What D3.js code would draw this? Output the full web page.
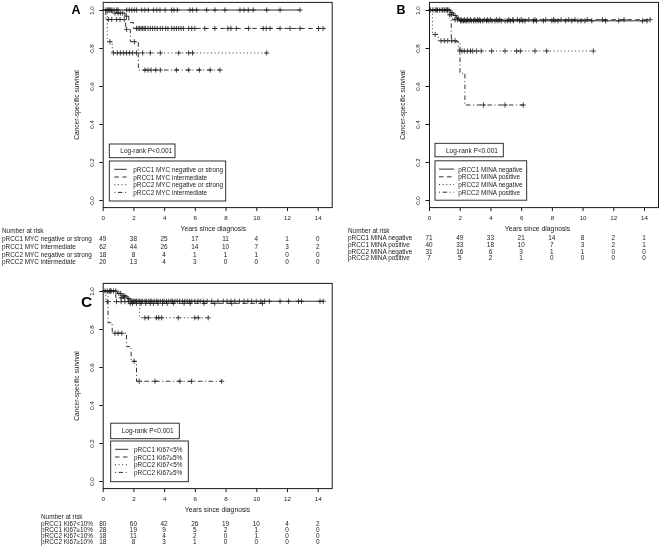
<!DOCTYPE html>
<html><head><meta charset="utf-8">
<script src="https://cdn.jsdelivr.net/npm/d3@7"></script>
<style>
body{margin:0;background:#fff;}
svg{display:block;font-family:"Liberation Sans",Arial,Helvetica,sans-serif;opacity:0.999;will-change:transform;}
</style></head><body>
<svg id="chart" width="660" height="554"></svg>
<script>
// ---------- shared ----------
const xTicks = [0, 2, 4, 6, 8, 10, 12, 14];
const yTicks = [0, 0.2, 0.4, 0.6, 0.8, 1.0];
const xTitle = "Years since diagnosis";
const yTitle = "Cancer-specific survival";
const logRankText = "Log-rank P<0.001";
const riskHeader = "Number at risk";

// ---------- Panel A (MYC) ----------
const aLegend = ["pRCC1 MYC negative or strong", "pRCC1 MYC intermediate", "pRCC2 MYC negative or strong", "pRCC2 MYC intermediate"];
const aRisk = [[49, 38, 25, 17, 11, 4, 1, 0], [62, 44, 26, 14, 10, 7, 3, 2], [18, 8, 4, 1, 1, 1, 0, 0], [20, 13, 4, 3, 0, 0, 0, 0]];
const a1Steps = [[0, 1]];
const a1Cens = [0.21, 0.3, 0.37, 0.45, 0.52, 0.6, 0.74, 0.91, 1.0, 1.56, 1.73, 1.89, 2.06, 2.21, 2.54, 2.75, 2.97, 3.3, 3.52, 3.73, 4.06, 4.49, 4.64, 4.86, 5.68, 5.86, 6.12, 6.77, 7.31, 7.96, 8.94, 9.2, 9.48, 9.8, 10.68, 11.55, 12.85];
const a1End = 12.85;
const a2Steps = [[0, 1], [0.6, 0.984], [1.45, 0.967], [1.7, 0.934], [2.0, 0.903]];
const a2Cens = [0.8, 1.0, 1.15, 1.3, 1.55, 2.2, 2.3, 2.4, 2.5, 2.6, 2.7, 2.8, 2.95, 3.1, 3.25, 3.4, 3.55, 3.75, 3.9, 4.1, 4.25, 4.5, 4.65, 4.8, 4.95, 5.1, 5.25, 5.6, 5.8, 6.0, 6.65, 7.3, 8.15, 8.35, 8.7, 9.5, 10.45, 10.65, 10.9, 11.55, 12.2, 12.85, 14.05, 14.35];
const a2End = 14.5;
const a3Steps = [[0, 1], [0.3, 0.833], [0.62, 0.774]];
const a3Cens = [0.47, 0.7, 0.95, 1.15, 1.35, 1.55, 1.75, 1.95, 2.2, 2.6, 3.1, 3.75, 4.95, 5.6, 5.85, 10.68];
const a3End = 10.68;
const a4Steps = [[0, 1], [0.2, 0.95], [1.5, 0.898], [1.8, 0.833], [2.32, 0.684]];
const a4Cens = [0.37, 0.59, 0.91, 1.13, 1.4, 1.56, 2.06, 2.75, 2.95, 3.15, 3.45, 3.75, 4.8, 5.6, 6.3, 7.0, 7.64];
const a4End = 7.64;

// ---------- Panel B (MINA) ----------
const bLegend = ["pRCC1 MINA negative", "pRCC1 MINA positive", "pRCC2 MINA negative", "pRCC2 MINA positive"];
const bRisk = [[71, 49, 33, 21, 14, 8, 2, 1], [40, 33, 18, 10, 7, 3, 2, 1], [31, 16, 6, 3, 1, 1, 0, 0], [7, 5, 2, 1, 0, 0, 0, 0]];
const b1Steps = [[0, 1], [1.4, 0.986], [1.6, 0.971], [1.8, 0.957], [1.95, 0.943]];
const b1Cens = [0.1, 0.25, 0.4, 0.55, 0.7, 0.85, 1.0, 1.1, 1.2, 1.3, 1.5, 1.7, 1.9, 2.05, 2.15, 2.25, 2.35, 2.45, 2.6, 2.75, 2.9, 3.05, 3.2, 3.35, 3.5, 3.75, 3.9, 4.1, 4.3, 4.5, 4.7, 4.95, 5.1, 5.3, 5.5, 5.9, 6.1, 6.25, 6.8, 7.0, 7.45, 8.0, 8.2, 8.4, 8.9, 9.3, 9.7, 9.9, 10.15, 10.6, 11.5, 12.35, 13.9, 14.2];
const b1End = 14.2;
const b2Steps = [[0, 1], [1.2, 0.975], [1.55, 0.949]];
const b2Cens = [0.5, 0.9, 1.35, 1.7, 1.85, 2.1, 2.3, 2.5, 2.7, 2.95, 3.15, 3.3, 3.6, 3.8, 4.0, 4.4, 4.6, 5.2, 5.45, 5.75, 6.0, 6.5, 6.9, 7.6, 8.1, 8.6, 9.1, 9.5, 10.3, 11.3, 12.7, 14.4];
const b2End = 14.4;
const b3Steps = [[0, 1], [0.22, 0.871], [0.6, 0.838], [1.9, 0.784]];
const b3Cens = [0.4, 0.78, 1.0, 1.22, 1.48, 1.7, 2.0, 2.15, 2.3, 2.5, 2.7, 2.85, 3.1, 3.4, 4.08, 4.95, 5.7, 5.95, 6.9, 7.66, 10.7];
const b3End = 10.7;
const b4Steps = [[0, 1], [1.45, 0.833], [2.02, 0.667], [2.34, 0.5]];
const b4Cens = [1.2, 3.54, 4.95, 6.14];
const b4End = 6.14;

// ---------- Panel C (Ki67) ----------
const cLegend = ["pRCC1 Ki67<5%", "pRCC1 Ki67≥5%", "pRCC2 Ki67<5%", "pRCC2 Ki67≥5%"];
const cRiskLabels = ["pRCC1 Ki67<10%", "pRCC1 Ki67≥10%", "pRCC2 Ki67<10%", "pRCC2 Ki67≥10%"];
const cRisk = [[80, 60, 42, 26, 19, 10, 4, 2], [28, 19, 9, 5, 2, 1, 0, 0], [18, 11, 4, 2, 0, 1, 0, 0], [18, 8, 3, 1, 0, 0, 0, 0]];
const c1Steps = [[0, 1], [0.95, 0.987], [1.25, 0.974], [1.6, 0.96], [1.8, 0.946]];
const c1Cens = [0.15, 0.3, 0.45, 0.55, 0.7, 0.85, 1.05, 1.15, 1.35, 1.45, 1.7, 1.9, 2.0, 2.1, 2.2, 2.3, 2.4, 2.5, 2.6, 2.75, 2.85, 3.0, 3.1, 3.2, 3.35, 3.5, 3.6, 3.75, 3.9, 4.0, 4.15, 4.3, 4.45, 4.55, 4.7, 4.85, 5.0, 5.2, 5.35, 5.5, 5.65, 5.8, 6.0, 6.2, 6.35, 6.55, 6.8, 7.1, 7.5, 7.85, 8.1, 8.35, 8.6, 8.9, 9.2, 9.45, 9.7, 10.0, 10.3, 10.55, 10.85, 11.55, 12.1, 12.75, 12.95, 14.15, 14.36];
const c1End = 14.4;
const c2Steps = [[0, 1], [0.85, 0.964], [1.65, 0.935]];
const c2Cens = [0.5, 1.2, 1.4, 1.8, 1.95, 2.2, 2.5, 2.8, 3.1, 3.3, 3.6, 3.9, 4.2, 4.6, 5.3, 5.7, 6.6, 7.3, 8.4, 10.4];
const c2End = 10.4;
const c3Steps = [[0, 1], [0.2, 0.944], [2.4, 0.859]];
const c3Cens = [0.3, 0.9, 1.2, 1.45, 1.7, 1.9, 2.1, 2.75, 2.97, 3.5, 3.65, 3.84, 4.92, 6.0, 6.22, 6.87];
const c3End = 6.87;
const c4Steps = [[0, 1], [0.35, 0.833], [0.62, 0.778], [1.55, 0.707], [1.85, 0.63], [2.2, 0.525]];
const c4Cens = [0.8, 1.0, 1.25, 2.05, 2.38, 3.4, 5.03, 5.79, 7.75];
const c4End = 7.75;

// ---------- drawing ----------
const svg = d3.select("#chart");
const INK = "#1a1a1a";
const dashStyles = [null, "4.5,3.5", "1,2.6", "1,2.6,4.5,2.6"];

function survAt(steps, t) {
  let s = 1;
  for (const [tt, ss] of steps) { if (tt <= t) s = ss; }
  return s;
}

function drawPanel(p) {
  const x = d3.scaleLinear().domain([0, 14]).range([p.left, p.left + 215]);
  const y = d3.scaleLinear().domain([0, 1]).range([p.y0, p.y0 - 190]);
  const g = svg.append("g");
  const boxTop = y(1) - 7.6, boxBot = y(0) + 7.6;

  const xa = g.append("g").attr("transform", `translate(0,${boxBot})`)
    .call(d3.axisBottom(x).tickValues(xTicks).tickSizeInner(3.5).tickSizeOuter(0).tickPadding(5).tickFormat(d3.format("d")));
  xa.select(".domain").remove();
  xa.attr("font-family", null);
  xa.selectAll("line").attr("stroke", INK);
  xa.selectAll("text").attr("font-size", 6.2).attr("fill", INK);

  const ya = g.append("g").attr("transform", `translate(${p.left},0)`)
    .call(d3.axisLeft(y).tickValues(yTicks).tickSizeInner(3.5).tickSizeOuter(0).tickFormat(d3.format(".1f")));
  ya.select(".domain").remove();
  ya.attr("font-family", null);
  ya.selectAll("line").attr("stroke", INK);
  ya.selectAll("text").attr("font-size", 6.2).attr("fill", INK)
    .attr("transform", "rotate(-90)").attr("x", 0).attr("y", -8.8).attr("dy", 0)
    .attr("text-anchor", "middle");

  g.append("rect").attr("x", p.left + 0.5).attr("y", boxTop).attr("width", 229).attr("height", boxBot - boxTop)
    .attr("fill", "none").attr("stroke", INK).attr("stroke-width", 1);

  g.append("text").attr("x", p.xTitleX).attr("y", boxBot + 21).attr("text-anchor", "middle")
    .attr("dominant-baseline", "central").attr("font-size", 6.8).attr("fill", INK).text(xTitle);
  g.append("text").attr("transform", `translate(${p.left - 26.5},${(boxTop + boxBot) / 2}) rotate(-90)`)
    .attr("text-anchor", "middle").attr("dominant-baseline", "central").attr("font-size", 6.6).attr("fill", INK).text(yTitle);
  g.append("text").attr("x", p.letterX).attr("y", p.letterY).attr("text-anchor", "middle")
    .attr("font-size", p.letterSize).attr("font-weight", "bold").attr("fill", "#000").text(p.letter);

  const line = d3.line().x(d => x(d[0])).y(d => y(d[1])).curve(d3.curveStepAfter);
  p.curves.forEach((c, i) => {
    const pts = c.steps.slice();
    pts.push([c.end, pts[pts.length - 1][1]]);
    g.append("path").attr("d", line(pts)).attr("fill", "none").attr("stroke", INK)
      .attr("stroke-width", 0.9).attr("stroke-dasharray", dashStyles[i]);
    const cg = g.append("g");
    c.cens.forEach(t => {
      const cx = x(t), cy = y(survAt(c.steps, t));
      cg.append("path").attr("d", `M${cx - 2.6},${cy}H${cx + 2.6}M${cx},${cy - 2.6}V${cy + 2.6}`)
        .attr("stroke", INK).attr("stroke-width", 0.8).attr("fill", "none");
    });
  });

  const lr = p.logrank;
  g.append("rect").attr("x", lr.x).attr("y", lr.y).attr("width", lr.w).attr("height", lr.h)
    .attr("fill", "#fff").attr("stroke", INK).attr("stroke-width", 0.9);
  g.append("text").attr("x", lr.x + 11).attr("y", lr.y + lr.h / 2).attr("dominant-baseline", "central")
    .attr("font-size", 6.5).attr("fill", INK).text(logRankText);

  const lg = p.legend;
  g.append("rect").attr("x", lg.x).attr("y", lg.y).attr("width", lg.w).attr("height", lg.h)
    .attr("fill", "#fff").attr("stroke", INK).attr("stroke-width", 0.9);
  p.legendLabels.forEach((lab, i) => {
    const ly = lg.y + 8.3 + i * 7.7;
    g.append("line").attr("x1", lg.x + lg.s1).attr("x2", lg.x + lg.s2).attr("y1", ly).attr("y2", ly)
      .attr("stroke", INK).attr("stroke-width", 0.9).attr("stroke-dasharray", dashStyles[i]);
    g.append("text").attr("x", lg.x + lg.tx).attr("y", ly).attr("dominant-baseline", "central")
      .attr("font-size", 6.4).attr("fill", INK).text(lab);
  });

  const tb = p.table;
  g.append("text").attr("x", tb.labelX).attr("y", tb.headY).attr("dominant-baseline", "central")
    .attr("font-size", 6.4).attr("fill", INK).text(riskHeader);
  p.riskLabels.forEach((lab, i) => {
    const ry = tb.row0 + i * tb.dy;
    g.append("text").attr("x", tb.labelX).attr("y", ry).attr("dominant-baseline", "central")
      .attr("font-size", 6.4).attr("fill", INK).text(lab);
    p.risk[i].forEach((v, j) => {
      g.append("text").attr("x", x(xTicks[j])).attr("y", ry).attr("text-anchor", "middle")
        .attr("dominant-baseline", "central").attr("font-size", 6.4).attr("fill", INK).text(v);
    });
  });
}

drawPanel({
  left: 102.7, y0: 200, letter: "A", letterX: 76, letterY: 14, letterSize: 12.5, xTitleX: 213.3,
  curves: [
    { steps: a1Steps, cens: a1Cens, end: a1End },
    { steps: a2Steps, cens: a2Cens, end: a2End },
    { steps: a3Steps, cens: a3Cens, end: a3End },
    { steps: a4Steps, cens: a4Cens, end: a4End }],
  logrank: { x: 109.3, y: 144, w: 65.7, h: 13.7 },
  legend: { x: 109.3, y: 161, w: 116.4, h: 40, s1: 5, s2: 17.4, tx: 24 },
  legendLabels: aLegend, riskLabels: aLegend, risk: aRisk,
  table: { labelX: 2, headY: 230.8, row0: 238.4, dy: 7.8 }
});

drawPanel({
  left: 429, y0: 200, letter: "B", letterX: 401, letterY: 14, letterSize: 12.5, xTitleX: 537.5,
  curves: [
    { steps: b1Steps, cens: b1Cens, end: b1End },
    { steps: b2Steps, cens: b2Cens, end: b2End },
    { steps: b3Steps, cens: b3Cens, end: b3End },
    { steps: b4Steps, cens: b4Cens, end: b4End }],
  logrank: { x: 435, y: 143.3, w: 68.3, h: 13.5 },
  legend: { x: 435, y: 160.8, w: 91.7, h: 39.4, s1: 4, s2: 19, tx: 23.3 },
  legendLabels: bLegend, riskLabels: bLegend, risk: bRisk,
  table: { labelX: 348, headY: 230.6, row0: 237.4, dy: 6.8 }
});

drawPanel({
  left: 102.7, y0: 481, letter: "C", letterX: 86.5, letterY: 306.5, letterSize: 15.5, xTitleX: 217.5,
  curves: [
    { steps: c1Steps, cens: c1Cens, end: c1End },
    { steps: c2Steps, cens: c2Cens, end: c2End },
    { steps: c3Steps, cens: c3Cens, end: c3End },
    { steps: c4Steps, cens: c4Cens, end: c4End }],
  logrank: { x: 110.7, y: 423.2, w: 68.6, h: 15.5 },
  legend: { x: 110.7, y: 441, w: 77.6, h: 40.7, s1: 4.3, s2: 17.6, tx: 23.3 },
  legendLabels: cLegend, riskLabels: cRiskLabels, risk: cRisk,
  table: { labelX: 41, headY: 516.5, row0: 523.3, dy: 6.1 }
});
</script>
</body></html>
